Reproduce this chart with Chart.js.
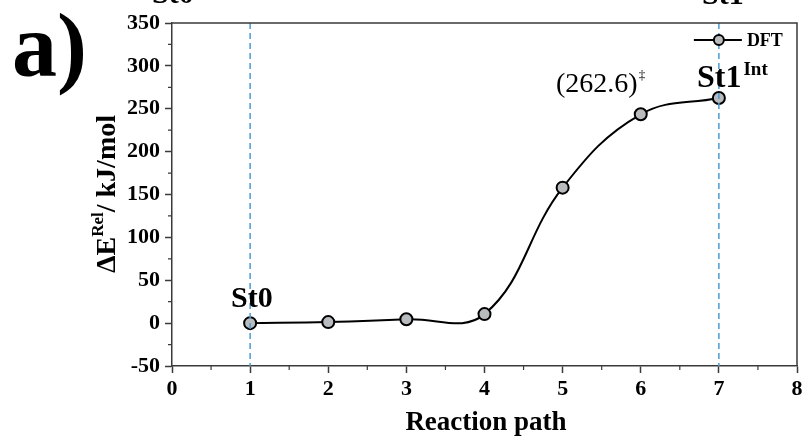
<!DOCTYPE html>
<html lang="en">
<head>
<meta charset="UTF-8">
<title>Reaction path energy</title>
<script src="https://cdn.jsdelivr.net/npm/chart.js@4.4.1/dist/chart.umd.min.js"></script>
<style>
  html, body { margin: 0; padding: 0; background: #fff; }
  #wrap { width: 806px; height: 441px; }
</style>
</head>
<body>
<div id="wrap"><canvas id="chrt" width="806" height="441"></canvas></div>
<script>
// data
const steps = [1, 2, 3, 4, 5, 6, 7]
const energies = [0, 1.2, 4.5, 10.5, 158, 243.5, 262.6]
const xTicks = [0, 1, 2, 3, 4, 5, 6, 7, 8]
const yTicks = [-50, 0, 50, 100, 150, 200, 250, 300, 350]
const markedSteps = [1, 7]   // dashed guide lines

const serif = "'Liberation Serif', 'Times New Roman', serif"
const boxColor = '#3a3a3a'

const extras = {
  id: 'extras',
  afterDatasetsDraw(chart) {
    const ctx = chart.ctx
    const { left, right, top, bottom } = chart.chartArea
    const xs = chart.scales.x, ys = chart.scales.y

    // dashed guides
    ctx.save()
    ctx.strokeStyle = '#4b9bd3'
    ctx.lineWidth = 1.5
    ctx.setLineDash([6, 4])
    markedSteps.forEach(s => {
      const px = xs.getPixelForValue(s)
      ctx.beginPath()
      ctx.moveTo(px, top)
      ctx.lineTo(px, bottom)
      ctx.stroke()
    })
    ctx.restore()

    // box on top and right
    ctx.save()
    ctx.strokeStyle = boxColor
    ctx.lineWidth = 1.5
    ctx.beginPath()
    ctx.moveTo(left, top)
    ctx.lineTo(right, top)
    ctx.lineTo(right, bottom)
    ctx.stroke()

    // minor ticks
    ctx.lineWidth = 1.2
    ctx.beginPath()
    for (let v = 0.5; v < 8; v++) {
      const px = xs.getPixelForValue(v)
      ctx.moveTo(px, bottom)
      ctx.lineTo(px, bottom + 4)
    }
    for (let v = -25; v < 350; v += 50) {
      const py = ys.getPixelForValue(v)
      ctx.moveTo(left, py)
      ctx.lineTo(left - 4, py)
    }
    ctx.stroke()
    ctx.restore()

    // legend
    ctx.save()
    const ly = 40, lx = xs.getPixelForValue(7)
    ctx.strokeStyle = '#000'
    ctx.lineWidth = 2
    ctx.beginPath()
    ctx.moveTo(lx - 25, ly)
    ctx.lineTo(lx + 23, ly)
    ctx.stroke()
    ctx.beginPath()
    ctx.arc(lx, ly, 5, 0, Math.PI * 2)
    ctx.fillStyle = '#b9bcbf'
    ctx.fill()
    ctx.stroke()
    ctx.fillStyle = '#000'
    ctx.font = 'bold 18px ' + serif
    ctx.textBaseline = 'alphabetic'
    ctx.fillText('DFT', lx + 28, ly + 6)
    ctx.restore()

    // labels
    ctx.save()
    ctx.fillStyle = '#000'
    ctx.textBaseline = 'alphabetic'
    ctx.font = 'bold 30px ' + serif
    ctx.fillText('St0', 231, 307)
    ctx.font = 'bold 32px ' + serif
    ctx.fillText('St1', 697, 87)
    let w = ctx.measureText('St1').width
    ctx.font = 'bold 19px ' + serif
    ctx.fillText('Int', 697 + w + 2, 75)
    ctx.font = '28px ' + serif
    ctx.fillText('(262.6)', 556, 92)
    w = ctx.measureText('(262.6)').width
    ctx.font = '13px ' + serif
    ctx.fillText('\u2021', 556 + w + 1, 79)

    // clipped labels from the panel above
    ctx.font = 'bold 30px ' + serif
    ctx.fillText('St0', 152, 3)
    ctx.fillText('St1', 702, 4)

    // panel letter
    ctx.font = 'bold 90px ' + serif
    ctx.fillText('a)', 12, 76)

    // x title
    ctx.font = 'bold 27px ' + serif
    ctx.textAlign = 'center'
    ctx.fillText('Reaction path', 486, 430)

    // y title with superscript
    ctx.translate(105, 194)
    ctx.rotate(-Math.PI / 2)
    ctx.textAlign = 'left'
    const big = 'bold 28px ' + serif, small = 'bold 17px ' + serif
    ctx.font = big
    const w1 = ctx.measureText('\u0394E').width
    const w3 = ctx.measureText('/ kJ/mol').width
    ctx.font = small
    const w2 = ctx.measureText('Rel').width
    let x0 = -(w1 + w2 + w3) / 2
    ctx.font = big
    ctx.fillText('\u0394E', x0, 10)
    ctx.font = small
    ctx.fillText('Rel', x0 + w1, -2)
    ctx.font = big
    ctx.fillText('/ kJ/mol', x0 + w1 + w2, 10)
    ctx.restore()
  }
}

new Chart(document.getElementById('chrt'), {
  type: 'line',
  data: {
    datasets: [{
      label: 'DFT',
      data: steps.map((s, i) => ({ x: s, y: energies[i] })),
      borderColor: '#000',
      borderWidth: 2,
      tension: 0.4,
      pointRadius: 6,
      pointBorderWidth: 2,
      pointBackgroundColor: '#b9bcbf',
      pointBorderColor: '#000',
      fill: false
    }]
  },
  options: {
    responsive: false,
    animation: false,
    layout: { padding: { top: 23, right: 9, left: 0, bottom: 0 } },
    plugins: { legend: { display: false }, tooltip: { enabled: false } },
    scales: {
      x: {
        type: 'linear',
        min: 0, max: 8,
        afterFit: s => { s.height = 75 },
        afterBuildTicks: s => { s.ticks = xTicks.map(v => ({ value: v })) },
        grid: { drawOnChartArea: false, drawTicks: true, tickLength: 7, tickColor: boxColor, tickWidth: 1.5 },
        border: { color: boxColor, width: 1.5 },
        ticks: { color: '#000', padding: 3, font: { family: serif, size: 22, weight: 'bold' }, maxRotation: 0 }
      },
      y: {
        min: -50, max: 350,
        afterFit: s => { s.width = 172 },
        afterBuildTicks: s => { s.ticks = yTicks.map(v => ({ value: v })) },
        grid: { drawOnChartArea: false, drawTicks: true, tickLength: 7, tickColor: boxColor, tickWidth: 1.5 },
        border: { color: boxColor, width: 1.5 },
        ticks: { color: '#000', padding: 5, font: { family: serif, size: 22, weight: 'bold' } }
      }
    }
  },
  plugins: [extras]
})
</script>
</body>
</html>
